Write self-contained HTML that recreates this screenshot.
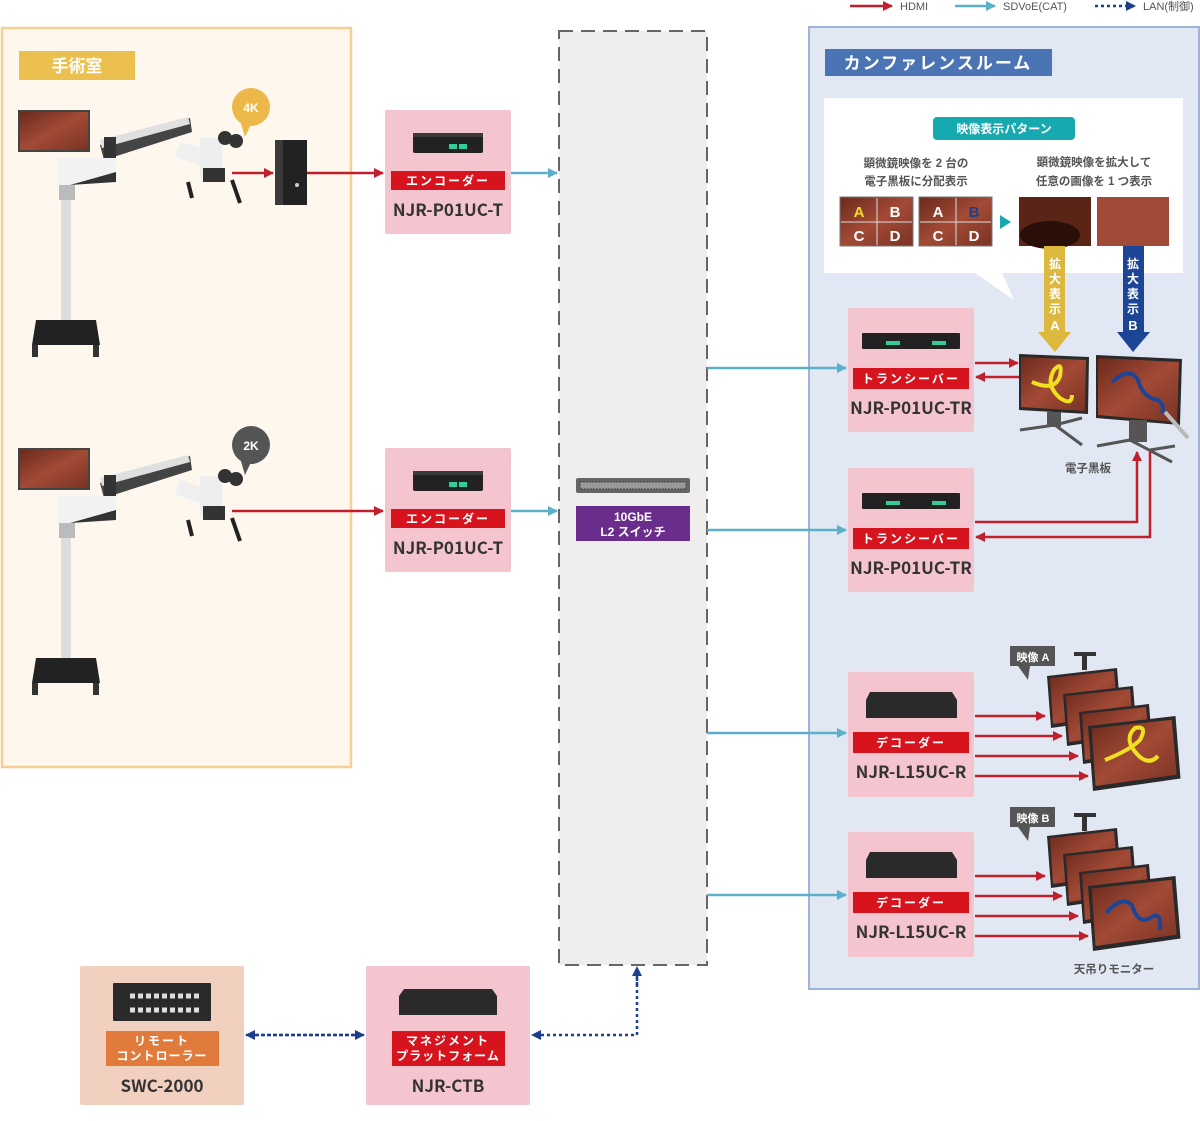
<!DOCTYPE html>
<html><head><meta charset="utf-8"><style>
html,body{margin:0;padding:0;background:#fff}
svg{display:block}
text{font-family:"Liberation Sans","Noto Sans CJK JP",sans-serif}
.mdl{font-family:"Noto Sans CJK JP","Liberation Sans",sans-serif;font-weight:bold}
</style></head><body>
<svg width="1200" height="1121" viewBox="0 0 1200 1121" xmlns="http://www.w3.org/2000/svg">
<defs>
<marker id="ar" markerWidth="10" markerHeight="10" refX="9" refY="5" orient="auto" markerUnits="userSpaceOnUse"><path d="M0,0 L10,5 L0,10z" fill="#c0202b"/></marker>
<marker id="at" markerWidth="10" markerHeight="10" refX="9" refY="5" orient="auto" markerUnits="userSpaceOnUse"><path d="M0,0 L10,5 L0,10z" fill="#5aafc9"/></marker>
<marker id="an" markerWidth="10" markerHeight="10" refX="9" refY="5" orient="auto" markerUnits="userSpaceOnUse"><path d="M0,0 L10,5 L0,10z" fill="#1c3f8c"/></marker>
<linearGradient id="gut" x1="0" y1="0" x2="1" y2="1"><stop offset="0" stop-color="#6b2a1c"/><stop offset="0.5" stop-color="#a24a36"/><stop offset="1" stop-color="#7a3324"/></linearGradient>
<g id="mon"><polygon points="0,8 70,0 74,50 4,60" fill="#2a2a2a"/><polygon points="3,10 67,3 71,47 6,56" fill="url(#gut)"/></g>
<g id="dev"><rect x="0" y="0" width="70" height="20" rx="2" fill="#222"/><rect x="0" y="0" width="70" height="4" fill="#3a3a3a"/><rect x="36" y="11" width="8" height="5" fill="#3c9"/><rect x="46" y="11" width="8" height="5" fill="#3c9"/></g>
</defs>

<text x="900" y="10" font-size="11" fill="#555">HDMI</text>
<line x1="850" y1="6" x2="892" y2="6" stroke="#c0202b" stroke-width="2.5" marker-end="url(#ar)"/>
<line x1="955" y1="6" x2="995" y2="6" stroke="#5aafc9" stroke-width="2.5" marker-end="url(#at)"/>
<text x="1003" y="10" font-size="11" fill="#555">SDVoE(CAT)</text>
<line x1="1095" y1="6" x2="1135" y2="6" stroke="#1c3f8c" stroke-width="2.5" stroke-dasharray="3,3" marker-end="url(#an)"/>
<text x="1143" y="10" font-size="11" fill="#555">LAN(制御)</text>

<rect x="2" y="28" width="349" height="739" fill="#fdf7ee" stroke="#f6cf92" stroke-width="2.5"/>
<rect x="19" y="51" width="116" height="29" fill="#ecc04e"/>
<text x="77" y="72" font-size="17" font-weight="bold" fill="#fff" text-anchor="middle">手術室</text>

<g>
<rect x="18" y="110" width="72" height="42" fill="#444"/><rect x="20" y="112" width="68" height="38" fill="url(#gut)"/>
<polygon points="100,145 190,118 192,132 104,160" fill="#444"/><polygon points="100,140 188,117 190,124 102,148" fill="#e0e0e0"/>
<rect x="104" y="137" width="12" height="22" fill="#333"/>
<polygon points="58,158 116,158 116,180 70,185 58,185" fill="#f2f2f2"/><polygon points="70,185 116,172 116,182" fill="#333"/>
<rect x="59" y="185" width="16" height="15" fill="#bbb"/><rect x="61" y="200" width="10" height="120" fill="#ddd"/>
<polygon points="36,320 96,320 100,345 32,345" fill="#222"/><rect x="32" y="345" width="6" height="12" fill="#333"/><rect x="93" y="345" width="6" height="12" fill="#333"/>
<rect x="178" y="145" width="40" height="16" fill="#f0f0f0" transform="rotate(20 190 150)"/>
<rect x="200" y="138" width="22" height="40" fill="#eee"/><circle cx="225" cy="138" r="7" fill="#333"/><circle cx="236" cy="141" r="7" fill="#333"/>
<rect x="203" y="168" width="22" height="14" fill="#333"/>
<path d="M188,182 L192,198 M232,180 L240,203" stroke="#222" stroke-width="4" fill="none"/>
</g>
<g transform="translate(0,338)">
<rect x="18" y="110" width="72" height="42" fill="#444"/><rect x="20" y="112" width="68" height="38" fill="url(#gut)"/>
<polygon points="100,145 190,118 192,132 104,160" fill="#444"/><polygon points="100,140 188,117 190,124 102,148" fill="#e0e0e0"/>
<rect x="104" y="137" width="12" height="22" fill="#333"/>
<polygon points="58,158 116,158 116,180 70,185 58,185" fill="#f2f2f2"/><polygon points="70,185 116,172 116,182" fill="#333"/>
<rect x="59" y="185" width="16" height="15" fill="#bbb"/><rect x="61" y="200" width="10" height="120" fill="#ddd"/>
<polygon points="36,320 96,320 100,345 32,345" fill="#222"/><rect x="32" y="345" width="6" height="12" fill="#333"/><rect x="93" y="345" width="6" height="12" fill="#333"/>
<rect x="178" y="145" width="40" height="16" fill="#f0f0f0" transform="rotate(20 190 150)"/>
<rect x="200" y="138" width="22" height="40" fill="#eee"/><circle cx="225" cy="138" r="7" fill="#333"/><circle cx="236" cy="141" r="7" fill="#333"/>
<rect x="203" y="168" width="22" height="14" fill="#333"/>
<path d="M188,182 L192,198 M232,180 L240,203" stroke="#222" stroke-width="4" fill="none"/>
</g>
<circle cx="251" cy="107" r="19" fill="#ecb84a"/><polygon points="240,120 252,122 245,137" fill="#ecb84a"/>
<text x="251" y="112" font-size="12" font-weight="bold" fill="#fff" text-anchor="middle">4K</text>
<circle cx="251" cy="445" r="19" fill="#555"/><polygon points="240,458 252,460 245,475" fill="#555"/>
<text x="251" y="450" font-size="12" font-weight="bold" fill="#fff" text-anchor="middle">2K</text>
<rect x="275" y="140" width="32" height="65" fill="#222"/><rect x="275" y="140" width="8" height="65" fill="#3a3a3a"/><circle cx="297" cy="185" r="2" fill="#ccc"/>

<rect x="559" y="31" width="148" height="934" fill="#efeeed" stroke="#666" stroke-width="2" stroke-dasharray="14,8"/>
<rect x="576" y="478" width="114" height="15" rx="2" fill="#666"/><rect x="580" y="482" width="106" height="7" fill="#999" stroke="#444" stroke-dasharray="2,1"/>
<rect x="576" y="506" width="114" height="35" fill="#6a2d8c"/>
<text x="633" y="521" font-size="12" font-weight="bold" fill="#fff" text-anchor="middle">10GbE</text>
<text x="633" y="536" font-size="12" font-weight="bold" fill="#fff" text-anchor="middle">L2 スイッチ</text>

<rect x="809" y="27" width="390" height="962" fill="#e2e8f3" stroke="#9fb3d9" stroke-width="2"/>
<rect x="825" y="49" width="227" height="27" fill="#4a74b4"/>
<text x="938" y="69" font-size="17" font-weight="bold" fill="#fff" text-anchor="middle" letter-spacing="2">カンファレンスルーム</text>
<rect x="824" y="98" width="359" height="175" fill="#fff"/>
<polygon points="975,273 1002,273 1014,300" fill="#fff"/>
<rect x="933" y="117" width="142" height="23" rx="4" fill="#16aab0"/>
<text x="1004" y="133" font-size="12" font-weight="bold" fill="#fff" text-anchor="middle">映像表示パターン</text>
<text x="916" y="167" font-size="11.5" fill="#555" text-anchor="middle" font-weight="bold">顕微鏡映像を 2 台の</text>
<text x="916" y="185" font-size="11.5" fill="#555" text-anchor="middle" font-weight="bold">電子黒板に分配表示</text>
<text x="1094" y="166" font-size="11.5" fill="#555" text-anchor="middle" font-weight="bold">顕微鏡映像を拡大して</text>
<text x="1094" y="185" font-size="11.5" fill="#555" text-anchor="middle" font-weight="bold">任意の画像を 1 つ表示</text>
<rect x="840" y="197" width="73" height="49" fill="url(#gut)" stroke="#777"/>
<line x1="877" y1="198" x2="877" y2="245" stroke="#ddd"/><line x1="841" y1="222" x2="912" y2="222" stroke="#ddd"/>
<text x="859" y="217" font-size="15" font-weight="bold" fill="#f0e020" text-anchor="middle">A</text><text x="895" y="217" font-size="15" font-weight="bold" fill="#fff" text-anchor="middle">B</text>
<text x="859" y="241" font-size="15" font-weight="bold" fill="#fff" text-anchor="middle">C</text><text x="895" y="241" font-size="15" font-weight="bold" fill="#fff" text-anchor="middle">D</text>
<rect x="919" y="197" width="73" height="49" fill="url(#gut)" stroke="#777"/>
<line x1="956" y1="198" x2="956" y2="245" stroke="#ddd"/><line x1="920" y1="222" x2="991" y2="222" stroke="#ddd"/>
<text x="938" y="217" font-size="15" font-weight="bold" fill="#fff" text-anchor="middle">A</text><text x="974" y="217" font-size="15" font-weight="bold" fill="#1c3f8c" text-anchor="middle">B</text>
<text x="938" y="241" font-size="15" font-weight="bold" fill="#fff" text-anchor="middle">C</text><text x="974" y="241" font-size="15" font-weight="bold" fill="#fff" text-anchor="middle">D</text>
<polygon points="1000,215 1011,222 1000,229" fill="#16aab0"/>
<rect x="1019" y="197" width="72" height="49" fill="#5a2416"/><ellipse cx="1050" cy="235" rx="30" ry="14" fill="#2a0f08"/>
<rect x="1097" y="197" width="72" height="49" fill="#a04a38"/>
<rect x="1044" y="246" width="21" height="88" fill="#dcb83e"/><polygon points="1038,332 1071,332 1055,352" fill="#dcb83e"/>
<text x="1055" y="268" font-size="12" font-weight="bold" fill="#fff" text-anchor="middle">拡</text><text x="1055" y="283" font-size="12" font-weight="bold" fill="#fff" text-anchor="middle">大</text><text x="1055" y="298" font-size="12" font-weight="bold" fill="#fff" text-anchor="middle">表</text><text x="1055" y="313" font-size="12" font-weight="bold" fill="#fff" text-anchor="middle">示</text><text x="1055" y="330" font-size="13" font-weight="bold" fill="#fff" text-anchor="middle">A</text>
<rect x="1123" y="246" width="21" height="88" fill="#1c4596"/><polygon points="1117,332 1150,332 1133,352" fill="#1c4596"/>
<text x="1133" y="268" font-size="12" font-weight="bold" fill="#fff" text-anchor="middle">拡</text><text x="1133" y="283" font-size="12" font-weight="bold" fill="#fff" text-anchor="middle">大</text><text x="1133" y="298" font-size="12" font-weight="bold" fill="#fff" text-anchor="middle">表</text><text x="1133" y="313" font-size="12" font-weight="bold" fill="#fff" text-anchor="middle">示</text><text x="1133" y="330" font-size="13" font-weight="bold" fill="#fff" text-anchor="middle">B</text>

<polygon points="1019,354 1089,357 1088,414 1019,410" fill="#2a2a2a"/><polygon points="1021,357 1086,360 1085,411 1021,407" fill="url(#gut)"/>
<path d="M1032,382 Q1055,392 1060,376 Q1063,360 1054,370 Q1045,385 1060,398 Q1072,406 1072,395" stroke="#f0e020" stroke-width="4" fill="none"/>
<rect x="1047" y="412" width="14" height="15" fill="#555"/><path d="M1020,430 L1055,425 L1082,445 M1055,425 L1082,418" stroke="#555" stroke-width="3" fill="none"/>
<polygon points="1096,355 1182,359 1180,425 1096,418" fill="#2a2a2a"/><polygon points="1098,358 1179,362 1177,422 1098,415" fill="url(#gut)"/>
<path d="M1112,382 Q1130,366 1138,380 Q1143,398 1158,400 Q1165,405 1162,414" stroke="#1c4596" stroke-width="4" fill="none"/>
<line x1="1165" y1="412" x2="1188" y2="438" stroke="#bbb" stroke-width="4"/>
<rect x="1129" y="420" width="18" height="22" fill="#555"/><path d="M1097,446 L1130,440 L1172,462 M1150,450 L1175,446" stroke="#555" stroke-width="3" fill="none"/>
<text x="1088" y="472" font-size="11.5" font-weight="bold" fill="#555" text-anchor="middle">電子黒板</text>

<g transform="translate(1047,668)"><use href="#mon"/></g>
<g transform="translate(1063,686)"><use href="#mon"/></g>
<g transform="translate(1079,704)"><use href="#mon"/></g>
<g transform="translate(1088,716) scale(1.25)"><use href="#mon"/></g>
<path d="M1105,760 Q1130,750 1140,740 Q1148,725 1135,728 Q1122,740 1140,757 Q1150,765 1158,756" stroke="#f0e020" stroke-width="4" fill="none"/>
<rect x="1074" y="652" width="22" height="4" fill="#333"/><rect x="1082" y="656" width="5" height="14" fill="#333"/>
<g transform="translate(1047,828)"><use href="#mon"/></g>
<g transform="translate(1063,846)"><use href="#mon"/></g>
<g transform="translate(1079,864)"><use href="#mon"/></g>
<g transform="translate(1088,876) scale(1.25)"><use href="#mon"/></g>
<path d="M1106,913 Q1122,895 1132,905 Q1138,925 1150,918 Q1162,910 1160,930" stroke="#1c4596" stroke-width="4" fill="none"/>
<rect x="1074" y="813" width="22" height="4" fill="#333"/><rect x="1082" y="817" width="5" height="14" fill="#333"/>
<rect x="1010" y="646" width="45" height="20" fill="#555"/><polygon points="1018,666 1030,666 1028,680" fill="#555"/>
<text x="1033" y="661" font-size="11" font-weight="bold" fill="#fff" text-anchor="middle">映像 A</text>
<rect x="1010" y="807" width="45" height="20" fill="#555"/><polygon points="1018,827 1030,827 1028,841" fill="#555"/>
<text x="1033" y="822" font-size="11" font-weight="bold" fill="#fff" text-anchor="middle">映像 B</text>
<text x="1114" y="973" font-size="11.5" font-weight="bold" fill="#555" text-anchor="middle">天吊りモニター</text>

<g font-weight="bold">
<rect x="385" y="110" width="126" height="124" rx="2" fill="#f4c4cf"/>
<g transform="translate(413,133)"><use href="#dev"/></g>
<rect x="391" y="171" width="114" height="19" fill="#d7141d"/>
<text x="448" y="185" font-size="12" fill="#fff" text-anchor="middle" letter-spacing="2">エンコーダー</text>
<text class="mdl" x="448" y="216" font-size="17" fill="#333" text-anchor="middle">NJR-P01UC-T</text>

<rect x="385" y="448" width="126" height="124" rx="2" fill="#f4c4cf"/>
<g transform="translate(413,471)"><use href="#dev"/></g>
<rect x="391" y="509" width="114" height="19" fill="#d7141d"/>
<text x="448" y="523" font-size="12" fill="#fff" text-anchor="middle" letter-spacing="2">エンコーダー</text>
<text class="mdl" x="448" y="554" font-size="17" fill="#333" text-anchor="middle">NJR-P01UC-T</text>

<rect x="848" y="308" width="126" height="124" rx="2" fill="#f4c4cf"/>
<rect x="862" y="333" width="98" height="16" rx="1" fill="#222"/><rect x="886" y="341" width="14" height="4" fill="#3c9"/><rect x="932" y="341" width="14" height="4" fill="#3c9"/>
<rect x="853" y="368" width="116" height="21" fill="#d7141d"/>
<text x="911" y="383" font-size="12" fill="#fff" text-anchor="middle" letter-spacing="2">トランシーバー</text>
<text class="mdl" x="911" y="414" font-size="17" fill="#333" text-anchor="middle">NJR-P01UC-TR</text>

<rect x="848" y="468" width="126" height="124" rx="2" fill="#f4c4cf"/>
<rect x="862" y="493" width="98" height="16" rx="1" fill="#222"/><rect x="886" y="501" width="14" height="4" fill="#3c9"/><rect x="932" y="501" width="14" height="4" fill="#3c9"/>
<rect x="853" y="528" width="116" height="21" fill="#d7141d"/>
<text x="911" y="543" font-size="12" fill="#fff" text-anchor="middle" letter-spacing="2">トランシーバー</text>
<text class="mdl" x="911" y="574" font-size="17" fill="#333" text-anchor="middle">NJR-P01UC-TR</text>

<rect x="848" y="672" width="126" height="125" rx="2" fill="#f4c4cf"/>
<polygon points="870,692 952,692 957,700 957,718 866,718 866,700" fill="#2a2a2a"/>
<rect x="853" y="732" width="116" height="21" fill="#d7141d"/>
<text x="911" y="747" font-size="12" fill="#fff" text-anchor="middle" letter-spacing="2">デコーダー</text>
<text class="mdl" x="911" y="778" font-size="17" fill="#333" text-anchor="middle">NJR-L15UC-R</text>

<rect x="848" y="832" width="126" height="125" rx="2" fill="#f4c4cf"/>
<polygon points="870,852 952,852 957,860 957,878 866,878 866,860" fill="#2a2a2a"/>
<rect x="853" y="892" width="116" height="21" fill="#d7141d"/>
<text x="911" y="907" font-size="12" fill="#fff" text-anchor="middle" letter-spacing="2">デコーダー</text>
<text class="mdl" x="911" y="938" font-size="17" fill="#333" text-anchor="middle">NJR-L15UC-R</text>

<rect x="366" y="966" width="164" height="139" rx="2" fill="#f4c4cf"/>
<polygon points="404,989 492,989 497,996 497,1015 399,1015 399,996" fill="#2a2a2a"/>
<rect x="392" y="1031" width="113" height="35" fill="#d7141d"/>
<text x="448" y="1045" font-size="12" fill="#fff" text-anchor="middle" letter-spacing="2">マネジメント</text>
<text x="448" y="1060" font-size="12" fill="#fff" text-anchor="middle" letter-spacing="1">プラットフォーム</text>
<text class="mdl" x="448" y="1092" font-size="17" fill="#333" text-anchor="middle">NJR-CTB</text>

<rect x="80" y="966" width="164" height="139" rx="2" fill="#f1d0bf"/>
<rect x="113" y="983" width="98" height="38" rx="1" fill="#2a2a2a"/>
<path d="M130,996 h70 M130,1010 h70" stroke="#ddd" stroke-width="5" stroke-dasharray="5,3"/>
<rect x="106" y="1031" width="113" height="35" fill="#e07b3c"/>
<text x="162" y="1045" font-size="12" fill="#fff" text-anchor="middle" letter-spacing="2">リモート</text>
<text x="162" y="1060" font-size="12" fill="#fff" text-anchor="middle" letter-spacing="1">コントローラー</text>
<text class="mdl" x="162" y="1092" font-size="17" fill="#333" text-anchor="middle">SWC-2000</text>
</g>

<g stroke="#5aafc9" stroke-width="2.5" fill="none">
<line x1="511" y1="173" x2="557" y2="173" marker-end="url(#at)"/>
<line x1="511" y1="511" x2="557" y2="511" marker-end="url(#at)"/>
<line x1="707" y1="368" x2="846" y2="368" marker-end="url(#at)"/>
<line x1="707" y1="530" x2="846" y2="530" marker-end="url(#at)"/>
<line x1="707" y1="733" x2="846" y2="733" marker-end="url(#at)"/>
<line x1="707" y1="895" x2="846" y2="895" marker-end="url(#at)"/>
</g>
<g stroke="#c0202b" stroke-width="2.5" fill="none">
<line x1="232" y1="173" x2="273" y2="173" marker-end="url(#ar)"/>
<line x1="307" y1="173" x2="383" y2="173" marker-end="url(#ar)"/>
<line x1="232" y1="511" x2="383" y2="511" marker-end="url(#ar)"/>
<line x1="975" y1="363" x2="1018" y2="363" marker-end="url(#ar)"/>
<line x1="1019" y1="377" x2="976" y2="377" marker-end="url(#ar)"/>
<polyline points="975,522 1137,522 1137,452" marker-end="url(#ar)"/>
<polyline points="1150,452 1150,537 976,537" marker-end="url(#ar)"/>
<line x1="975" y1="716" x2="1045" y2="716" marker-end="url(#ar)"/>
<line x1="975" y1="736" x2="1062" y2="736" marker-end="url(#ar)"/>
<line x1="975" y1="756" x2="1078" y2="756" marker-end="url(#ar)"/>
<line x1="975" y1="776" x2="1088" y2="776" marker-end="url(#ar)"/>
<line x1="975" y1="876" x2="1045" y2="876" marker-end="url(#ar)"/>
<line x1="975" y1="896" x2="1062" y2="896" marker-end="url(#ar)"/>
<line x1="975" y1="916" x2="1078" y2="916" marker-end="url(#ar)"/>
<line x1="975" y1="936" x2="1088" y2="936" marker-end="url(#ar)"/>
</g>
<g stroke="#1c3f8c" stroke-width="2.5" fill="none" stroke-dasharray="3,3">
<line x1="255" y1="1035" x2="364" y2="1035" marker-end="url(#an)"/>
<line x1="355" y1="1035" x2="246" y2="1035" marker-end="url(#an)"/>
<polyline points="637,978 637,1035 532,1035" marker-end="url(#an)"/>
<line x1="637" y1="985" x2="637" y2="967" marker-end="url(#an)"/>
</g>
</svg>
</body></html>
